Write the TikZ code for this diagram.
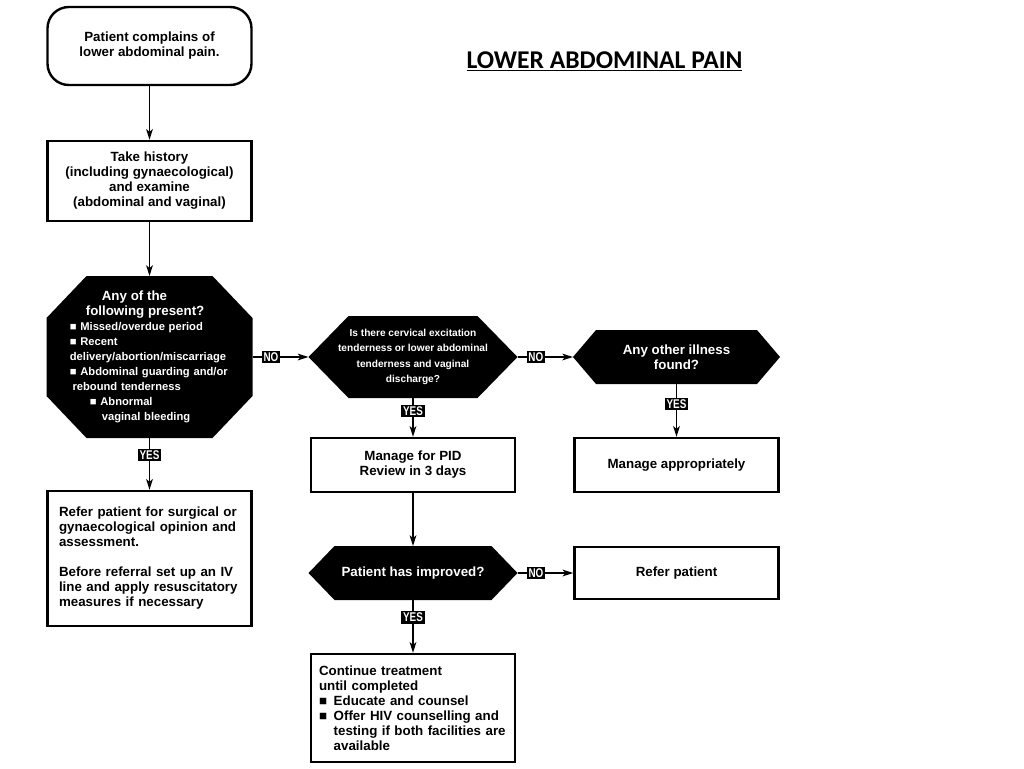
\documentclass[tikz,border=0pt]{standalone}
\usepackage{fontspec}
\setmainfont{Liberation Sans}
\newfontfamily\titlefont{Carlito}
\newfontfamily\tagfont{Liberation Sans}[FakeStretch=0.78]
\usetikzlibrary{arrows.meta,calc,backgrounds}

\begin{document}
\begin{tikzpicture}[x=0.75pt, y=-0.75pt,
    box/.style={rectangle, draw, line width=1.8pt, minimum width=153pt, align=center, font=\fontsize{10}{11.25}\selectfont\bfseries},
    startbox/.style={box, rounded corners=16pt, minimum height=58.5pt},
    ask/.style={rectangle, outer sep=0pt, text=white, align=center, font=\fontsize{10}{11.25}\selectfont\bfseries},
    tag/.style={fill=black, text=white, inner sep=1.3pt, pos=0.33, font=\tagfont\fontsize{9.5}{9.5}\selectfont\bfseries},
    arrow/.style={-{Stealth[length=8pt,width=5pt,inset=2pt]}, line width=1.1pt}
]
    \useasboundingbox (0,0) rectangle (1024,768);

    \node[anchor=base, font=\titlefont\fontsize{19.2}{22}\selectfont\bfseries] (title) at (604.5,68) {\underline{LOWER ABDOMINAL PAIN}};

    \node[startbox] (start) at (149.5,46) {Patient complains of\\lower abdominal pain.};
    \node[box, minimum height=60pt] (history) at (149.5,181) {Take history\\(including gynaecological)\\and examine\\(abdominal and vaginal)};
    \node[ask, minimum width=154.5pt, minimum height=121.5pt, text width=119.5pt, align=left, font=\fontsize{8.4}{11.25}\selectfont\bfseries] (present) at (149.5,357)
        {{\fontsize{10}{11.25}\selectfont\hspace*{24pt}Any of the\\\hspace*{12pt}following present?}\\
         ■ Missed/overdue period\\■ Recent\\delivery/abortion/miscarriage\\■ Abdominal guarding and/or\\\hspace*{2pt}rebound tenderness\\\hspace*{15pt}■ Abnormal\\\hspace*{24pt}vaginal bleeding};
    \node[box, minimum height=101.25pt, text width=135.75pt, align=left] (surgical) at (149.5,558.5)
        {Refer patient for surgical or\\gynaecological opinion and\\assessment.\\[11.25pt]Before referral set up an IV\\line and apply resuscitatory\\measures if necessary};

    \node[ask, minimum width=156.75pt, minimum height=61.5pt, font=\fontsize{7.6}{11.5}\selectfont\bfseries] (cervical) at (413,357)
        {Is there cervical excitation\\tenderness or lower abdominal\\tenderness and vaginal\\discharge?};
    \node[ask, minimum width=155.25pt, minimum height=40.5pt] (illness) at (676.5,357) {Any other illness\\found?};

    \node[box, minimum height=40.5pt] (pid) at (413,465) {Manage for PID\\Review in 3 days};
    \node[box, minimum height=40.5pt] (approp) at (676.5,465) {Manage appropriately};

    \node[ask, minimum width=156.75pt, minimum height=40.5pt] (improved) at (413,573) {Patient has improved?};
    \node[box, minimum height=39pt] (refer) at (676.5,573) {Refer patient};

    \node[box, minimum height=81pt, text width=141pt, align=left] (continue) at (413,708)
        {Continue treatment\\until completed\\■\hspace{5pt}Educate and counsel\\■\hspace{5pt}Offer HIV counselling and\\\hphantom{■}\hspace{5pt}testing if both facilities are\\\hphantom{■}\hspace{5pt}available};

    % black decision shapes behind the white text
    \begin{pgfonlayer}{background}
        \fill ($(present.north west)+(40,0)$) -- ($(present.north east)+(-40,0)$) -- ($(present.north east)+(0,42)$) -- ($(present.south east)+(0,-42)$)
            -- ($(present.south east)+(-40,0)$) -- ($(present.south west)+(40,0)$) -- ($(present.south west)+(0,-42)$) -- ($(present.north west)+(0,42)$) -- cycle;
        \fill (cervical.west) -- ($(cervical.north west)+(40,0)$) -- ($(cervical.north east)+(-40,0)$) -- (cervical.east)
            -- ($(cervical.south east)+(-40,0)$) -- ($(cervical.south west)+(40,0)$) -- cycle;
        \fill (illness.west) -- ($(illness.north west)+(23,0)$) -- ($(illness.north east)+(-23,0)$) -- (illness.east)
            -- ($(illness.south east)+(-23,0)$) -- ($(illness.south west)+(23,0)$) -- cycle;
        \fill (improved.west) -- ($(improved.north west)+(26,0)$) -- ($(improved.north east)+(-26,0)$) -- (improved.east)
            -- ($(improved.south east)+(-26,0)$) -- ($(improved.south west)+(26,0)$) -- cycle;
    \end{pgfonlayer}

    \draw[arrow] (start) -- (history);
    \draw[arrow] (history) -- (present);
    \draw[arrow] (present) -- node[tag] {YES} (surgical);
    \draw[arrow] (present) -- node[tag] {NO} (cervical);
    \draw[arrow] (cervical) -- node[tag] {NO} (illness);
    \draw[arrow] (cervical) -- node[tag] {YES} (pid);
    \draw[arrow] (illness) -- node[tag, pos=0.38] {YES} (approp);
    \draw[arrow] (pid) -- (improved);
    \draw[arrow] (improved) -- node[tag] {NO} (refer);
    \draw[arrow] (improved) -- node[tag] {YES} (continue);
\end{tikzpicture}
\end{document}
